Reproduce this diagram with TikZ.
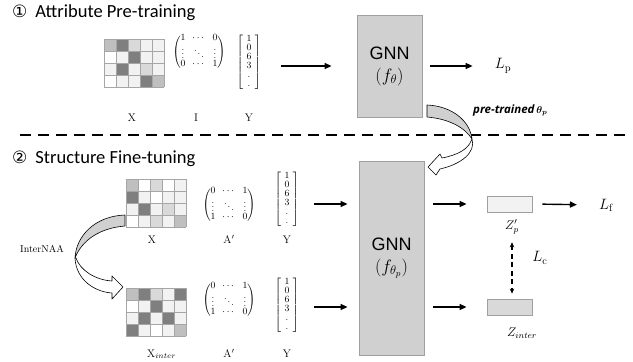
\RequirePackage{fix-cm}
\documentclass[tikz,border=0pt]{standalone}
\usepackage{amsmath}
\usepackage{fontspec}
\usetikzlibrary{arrows.meta,calc}

\newfontfamily\sansf{Liberation Sans}
\newfontfamily\ptf{Open Sans}
\newfontfamily\titlef{Carlito}
\newfontfamily\symf{DejaVu Sans}

\definecolor{cellW}{HTML}{FFFFFF}
\definecolor{cellV}{HTML}{F2F2F2}
\definecolor{cellL}{HTML}{D9D9D9}
\definecolor{cellM}{HTML}{BFBFBF}
\definecolor{cellD}{HTML}{7F7F7F}
\definecolor{gridc}{HTML}{A6A6A6}
\definecolor{boxfill}{HTML}{D0D0D0}
\definecolor{boxline}{HTML}{A0A0A0}

% 3x3 matrices and the label vector
\newcommand{\sv}{{\scriptstyle\vdots}}
\newcommand{\sd}{{\scriptstyle\ddots}}
\newcommand{\idmat}{$\setlength{\arraycolsep}{3.5pt}\left(\begin{matrix}1&\cdots&0\\ \sv&\sd&\sv\\ 0&\cdots&1\end{matrix}\right)$}
\newcommand{\antimat}{$\setlength{\arraycolsep}{3.5pt}\left(\begin{matrix}0&\cdots&1\\ \sv&\sd&\sv\\ 1&\cdots&0\end{matrix}\right)$}
\newcommand{\labvec}{$\left[\hspace{3.5pt}\begin{matrix}1\\0\\6\\3\\.\\.\end{matrix}\hspace{3.5pt}\right]$}

% 5x4 feature grid: #1 node name, #2 cell colours row by row
\newcommand{\featcells}[2]{%
  \foreach \cellc [count=\i from 0] in {#2} {
    \pgfmathtruncatemacro{\col}{mod(\i,5)}
    \pgfmathtruncatemacro{\row}{floor(\i/5)}
    \fill[fill=\cellc] ($(#1.north west)+(\col*12,\row*12)$) rectangle ++(12,12);
  }
  \foreach \k in {0,...,5}
    \draw[gridc, line width=0.8pt] ($(#1.north west)+(\k*12,0)$) -- ++(0,48);
  \foreach \k in {0,...,4}
    \draw[gridc, line width=0.8pt] ($(#1.north west)+(0,\k*12)$) -- ++(60,0);
}

\begin{document}
\begin{tikzpicture}[x=1pt,y=-1pt,
  arr/.style={line width=1.4pt, -{Triangle[length=7pt,width=6pt]}},
  gnnbox/.style={draw=boxline, fill=boxfill, line width=0.8pt, minimum width=65pt,
    align=center, font=\sansf\fontsize{18}{22}\selectfont},
  gridnode/.style={minimum width=60pt, minimum height=48pt, inner sep=0pt, outer sep=0pt},
  lbl/.style={font=\fontsize{11}{13}\selectfont, inner sep=0pt, anchor=base},
  mat/.style={font=\fontsize{9.5}{8.5}\selectfont, inner sep=0pt},
  vec/.style={font=\fontsize{9.5}{9}\selectfont, inner sep=0pt},
  zbox/.style={draw=boxline, line width=0.8pt, minimum width=45pt, minimum height=16pt, inner sep=0pt},
  loss/.style={font=\fontsize{15}{17}\selectfont, inner sep=0pt},
  ttl/.style={anchor=base west, inner sep=0pt, font=\titlef\fontsize{18.5}{20}\selectfont},
  ribbon/.style={draw=black, line width=0.6pt, line join=round},
  pairarr/.style={line width=1.2pt, dash pattern=on 5pt off 3.5pt,
    {Stealth[length=5pt,width=4.5pt]}-{Stealth[length=5pt,width=4.5pt]}}
]
\useasboundingbox (0,0) rectangle (633,362);

% section titles
\node[ttl] (t1) at (12,17) {{\symf\fontsize{17}{18}\selectfont ①}\hspace{8pt}Attribute Pre-training};
\node[ttl] (t2) at (12,163) {{\symf\fontsize{17}{18}\selectfont ②}\hspace{8pt}Structure Fine-tuning};

% separator
\draw[line width=1.8pt, dash pattern=on 11pt off 7pt] (20,135) -- (627,135);

% ---- pre-training inputs
\node[gridnode] (xa) at (134,63) {};
\featcells{xa}{cellM,cellD,cellL,cellV,cellV, cellW,cellV,cellD,cellV,cellV, cellV,cellD,cellV,cellL,cellV, cellW,cellV,cellV,cellD,cellM}
\node[mat] (ia) at (199,52) {\idmat};
\node[vec] (ya) at (249,62.5) {\labvec};
\node[lbl] (lxa) at (132,121) {X};
\node[lbl] (lia) at (196,121) {I};
\node[lbl] (lya) at (249,121) {Y};

% ---- fine-tuning inputs
\node[gridnode] (xb) at (156,203) {};
\featcells{xb}{cellM,cellW,cellL,cellW,cellV, cellD,cellV,cellW,cellV,cellV, cellV,cellD,cellV,cellL,cellV, cellW,cellV,cellL,cellV,cellM}
\node[mat] (ab) at (229,205) {\antimat};
\node[vec] (yb) at (287,199) {\labvec};
\node[lbl] (lxb) at (152,243) {X};
\node[lbl] (lab) at (229,243) {A$'$};
\node[lbl] (lyb) at (287,243) {Y};

\node[gridnode] (xc) at (156,312) {};
\featcells{xc}{cellM,cellD,cellL,cellV,cellD, cellW,cellV,cellD,cellV,cellV, cellV,cellD,cellV,cellD,cellV, cellD,cellV,cellW,cellV,cellM}
\node[mat] (ac) at (229,300) {\antimat};
\node[vec] (yc) at (287,305) {\labvec};
\node[lbl, anchor=base west] (lxc) at (147,357) {X$_{inter}$};
\node[lbl] (lac) at (229,357) {A$'$};
\node[lbl] (lyc) at (287,357) {Y};

\node[anchor=base west, inner sep=0pt, font=\fontsize{10}{12}\selectfont] (naa) at (20,252) {InterNAA};

% ---- encoders
\node[gnnbox, minimum height=102pt] (gnn1) at (389.5,66) {GNN\\$(f_\theta)$};
\node[gnnbox, minimum height=194pt] (gnn2) at (391.5,258) {GNN\\$(f_{\theta_p})$};

% ---- outputs
\node[loss] (lp) at (503,66) {$L_{\mathrm{p}}$};
\node[zbox, fill=cellV] (zp) at (509.5,204) {};
\node[zbox, fill=cellL] (zi) at (509.5,307) {};
\node[loss] (lf) at (606,205) {$L_{\mathrm{f}}$};
\node[loss] (lc) at (540,258) {$L_{\mathrm{c}}$};
\node[font=\fontsize{12.5}{14}\selectfont, inner sep=0pt] (zplab) at (512,227) {$Z'_p$};
\node[font=\fontsize{12.5}{14}\selectfont, inner sep=0pt] (zilab) at (522,333) {$Z_{inter}$};

\node[anchor=base west, inner sep=0pt, font=\ptf\bfseries\itshape\fontsize{11.5}{14}\selectfont] (ptr) at (473,113)
  {pre-trained\,{\fontsize{10}{10}\selectfont\boldmath$\theta_p$}};

% ---- connectors
\draw[arr, shorten <=20pt, shorten >=25pt] (ya.east |- gnn1.west) -- (gnn1.west);
\draw[arr, shorten <=8pt, shorten >=22pt] (gnn1.east) -- (lp.west);
\draw[arr, shorten <=15pt, shorten >=11pt] (yb.east |- zp.west) -- (gnn2.west |- zp.west);
\draw[arr, shorten <=15pt, shorten >=11pt] (yc.east |- zi.west) -- (gnn2.west |- zi.west);
\draw[arr, shorten <=9pt, shorten >=20pt] (gnn2.east |- zp.west) -- (zp.west);
\draw[arr, shorten <=9pt, shorten >=20pt] (gnn2.east |- zi.west) -- (zi.west);
\draw[arr, shorten <=10pt, shorten >=22pt] (zp.east) -- (lf.west);
\draw[pairarr, shorten <=8pt, shorten >=5pt] (zplab.south) -- (zplab.south |- zi.north);

% ---- curved ribbon arrows: weights handed over, augmentation
\filldraw[ribbon, fill=boxfill] (427,105) .. controls (452,106) and (470,121) .. (472,139)
  .. controls (465,128) and (450,119) .. (427,117) -- cycle;
\filldraw[ribbon, fill=white] (472,139) .. controls (476,152) and (462,164) .. (440,169)
  -- (436,175) -- (428,167) -- (440,154) -- (442,158)
  .. controls (458,155) and (468,149) .. (471,141) -- cycle;

\filldraw[ribbon, fill=boxfill] (125,215) .. controls (95,216) and (76,236) .. (75,258)
  .. controls (82,240) and (100,228) .. (125,226) -- cycle;
\filldraw[ribbon, fill=white] (75,258) .. controls (76,280) and (95,292) .. (112,293)
  -- (112,299) -- (123,287) -- (112,276) -- (112,281)
  .. controls (95,280) and (80,270) .. (76,258) -- cycle;
\end{tikzpicture}
\end{document}
